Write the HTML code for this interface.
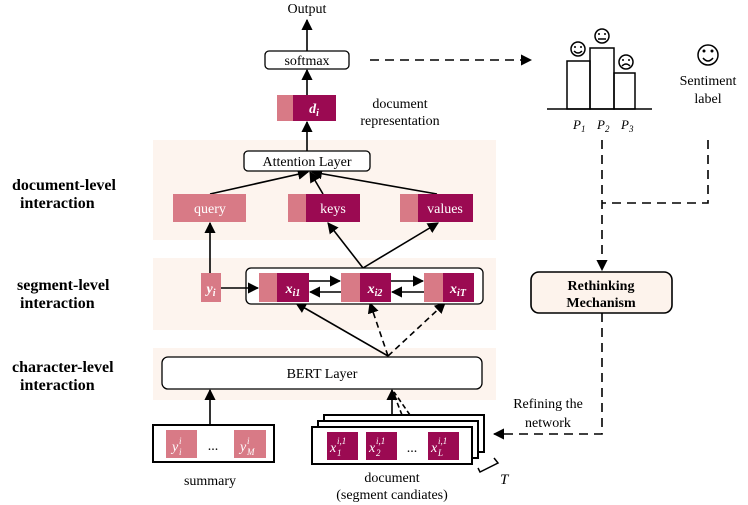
<!DOCTYPE html>
<html><head><meta charset="utf-8"><style>body{margin:0;background:#fff}svg{display:block}</style></head><body>
<svg width="748" height="505" viewBox="0 0 748 505" xmlns="http://www.w3.org/2000/svg" font-family="Liberation Serif, serif">
<defs>
<marker id="a" viewBox="0 0 10 10" refX="9" refY="5" markerWidth="7" markerHeight="7" orient="auto"><path d="M0,0L10,5L0,10z" fill="#000"/></marker>
</defs>
<rect x="153" y="140" width="343" height="100" fill="#fdf4ee"/>
<rect x="153" y="258" width="343" height="72" fill="#fdf4ee"/>
<rect x="153" y="348" width="343" height="52" fill="#fdf4ee"/>
<g font-weight="bold" font-size="16">
<text x="12" y="190">document-level</text><text x="20" y="208">interaction</text>
<text x="17" y="290">segment-level</text><text x="20" y="308">interaction</text>
<text x="12" y="372">character-level</text><text x="20" y="390">interaction</text>
</g>
<g stroke="#000" stroke-width="1.6" fill="none">
<line x1="307" y1="51" x2="307" y2="20" marker-end="url(#a)"/>
<line x1="307" y1="95" x2="307" y2="70" marker-end="url(#a)"/>
<line x1="307" y1="151" x2="307" y2="122" marker-end="url(#a)"/>
<line x1="210" y1="194" x2="308" y2="172" marker-end="url(#a)"/>
<line x1="323" y1="194" x2="310" y2="172" marker-end="url(#a)"/>
<line x1="437" y1="194" x2="312" y2="172" marker-end="url(#a)"/>
<line x1="210" y1="273" x2="210" y2="223" marker-end="url(#a)"/>
<line x1="363" y1="268" x2="328" y2="223" marker-end="url(#a)"/>
<line x1="363" y1="268" x2="438" y2="223" marker-end="url(#a)"/>
<line x1="388" y1="356" x2="296" y2="303" marker-end="url(#a)"/>
<line x1="388" y1="356" x2="370" y2="303" marker-end="url(#a)" stroke-dasharray="6,4"/>
<line x1="388" y1="356" x2="445" y2="303" marker-end="url(#a)" stroke-dasharray="6,4"/>
<line x1="210" y1="425" x2="210" y2="390" marker-end="url(#a)"/>
<line x1="392" y1="427" x2="392" y2="390" marker-end="url(#a)"/>
<line x1="402" y1="415" x2="393" y2="392" stroke-dasharray="5,3"/>
<line x1="410" y1="415" x2="394" y2="392" stroke-dasharray="5,3"/>
<line x1="370" y1="60" x2="531" y2="60" marker-end="url(#a)" stroke-dasharray="9,6"/>
<line x1="602" y1="140" x2="602" y2="270" marker-end="url(#a)" stroke-dasharray="9,6"/>
<polyline points="708,140 708,203 602,203" stroke-dasharray="9,6"/>
<polyline points="602,313 602,434 494,434" marker-end="url(#a)" stroke-dasharray="9,6"/>
</g>
<g stroke="#000" stroke-width="1.3" fill="#fff">
<rect x="265" y="51" width="84" height="18" rx="4"/>
<rect x="244" y="151" width="126" height="20" rx="4"/>
<rect x="246" y="268" width="237" height="36" rx="5"/>
<rect x="162" y="357" width="320" height="32" rx="6"/>
<rect x="531" y="272" width="141" height="41" rx="8" fill="#fdf3ec" stroke-width="1.6"/>
</g>
<g stroke="#000" stroke-width="2" fill="#fff">
<rect x="153" y="425" width="121" height="37"/>
<rect x="324" y="415" width="160" height="37"/>
<rect x="318" y="421" width="160" height="37"/>
<rect x="312" y="427" width="160" height="37"/>
</g>
<g fill="#d87a86">
<rect x="277" y="95" width="16" height="26"/>
<rect x="173" y="194" width="73" height="28"/>
<rect x="288" y="194" width="18" height="28"/><rect x="400" y="194" width="18" height="28"/>
<rect x="201" y="273" width="20" height="29"/>
<rect x="259" y="273" width="18" height="29"/><rect x="341" y="273" width="19" height="29"/><rect x="424" y="273" width="19" height="29"/>
<rect x="166" y="430" width="31" height="28"/><rect x="234" y="430" width="32" height="28"/>
</g>
<g fill="#9b0a52">
<rect x="293" y="95" width="43" height="26"/>
<rect x="306" y="194" width="54" height="28"/><rect x="418" y="194" width="55" height="28"/>
<rect x="277" y="273" width="32" height="29"/><rect x="360" y="273" width="31" height="29"/><rect x="443" y="273" width="31" height="29"/>
<rect x="327" y="432" width="31" height="28"/><rect x="366" y="432" width="31" height="28"/><rect x="428" y="432" width="31" height="28"/>
</g>
<g stroke="#000" stroke-width="1.6" fill="none">
<line x1="221" y1="288" x2="258" y2="288" marker-end="url(#a)"/>
<line x1="309" y1="281" x2="340" y2="281" marker-end="url(#a)"/>
<line x1="341" y1="292" x2="310" y2="292" marker-end="url(#a)"/>
<line x1="391" y1="281" x2="423" y2="281" marker-end="url(#a)"/>
<line x1="424" y1="292" x2="392" y2="292" marker-end="url(#a)"/>
</g>
<g font-size="14" text-anchor="middle">
<text x="307" y="13">Output</text>
<text x="307" y="65">softmax</text>
<text x="400" y="108">document</text><text x="400" y="125">representation</text>
<text x="307" y="166">Attention Layer</text>
<text x="322" y="378">BERT Layer</text>
<text x="210" y="485">summary</text>
<text x="392" y="482">document</text><text x="392" y="499">(segment candiates)</text>
<text x="213" y="450">...</text><text x="412" y="452">...</text>
<text x="548" y="408">Refining the</text><text x="548" y="427">network</text>
<text x="708" y="85">Sentiment</text><text x="708" y="103">label</text>
<text x="601" y="290" font-weight="bold">Rethinking</text><text x="601" y="307" font-weight="bold">Mechanism</text>
</g>
<g font-size="14" text-anchor="middle" fill="#fff">
<text x="210" y="213">query</text><text x="333" y="213">keys</text><text x="445" y="213">values</text>
<text x="314" y="113" font-weight="bold" font-style="italic">d<tspan font-size="10" dy="3">i</tspan></text>
<text x="211" y="293" font-weight="bold" font-style="italic">y<tspan font-size="10" dy="3">i</tspan></text>
<text x="293" y="293" font-weight="bold" font-style="italic">x<tspan font-size="10" dy="3">i1</tspan></text>
<text x="375" y="293" font-weight="bold" font-style="italic">x<tspan font-size="10" dy="3">i2</tspan></text>
<text x="458" y="293" font-weight="bold" font-style="italic">x<tspan font-size="10" dy="3">iT</tspan></text>
</g>
<g font-size="14" font-style="italic" fill="#fff">
<text x="172" y="451">y</text><text x="179" y="444" font-size="9">i</text><text x="179" y="455" font-size="9">i</text>
<text x="240" y="451">y</text><text x="247" y="444" font-size="9">i</text><text x="247" y="455" font-size="9">M</text>
<text x="330" y="452">x</text><text x="337" y="444" font-size="9">i,1</text><text x="337" y="456" font-size="9">1</text>
<text x="369" y="452">x</text><text x="376" y="444" font-size="9">i,1</text><text x="376" y="456" font-size="9">2</text>
<text x="431" y="452">x</text><text x="438" y="444" font-size="9">i,1</text><text x="438" y="456" font-size="9">L</text>
</g>
<g stroke="#000" stroke-width="1.5" fill="none">
<line x1="547" y1="109" x2="652" y2="109"/>
<rect x="567" y="61" width="23" height="48"/><rect x="590" y="48" width="24" height="61"/><rect x="614" y="73" width="21" height="36"/>
<circle cx="578" cy="49" r="7"/><circle cx="602" cy="36" r="7"/><circle cx="626" cy="62" r="7"/>
<path d="M574,51 q4,4 8,0"/><line x1="598" y1="39" x2="606" y2="39"/><path d="M622,66 q4,-4 8,0"/>
<circle cx="708" cy="55" r="10"/><path d="M703,58 q5,6 10,0"/>
<polyline points="478,468 480,472 498,463 494,458"/>
</g>
<g fill="#000">
<circle cx="575" cy="47" r="1"/><circle cx="581" cy="47" r="1"/>
<circle cx="599" cy="34" r="1"/><circle cx="605" cy="34" r="1"/>
<circle cx="623" cy="60" r="1"/><circle cx="629" cy="60" r="1"/>
<circle cx="704" cy="51" r="1.5"/><circle cx="712" cy="51" r="1.5"/>
</g>
<g font-size="13" font-style="italic">
<text x="573" y="129">P<tspan font-size="9" dy="3">1</tspan></text>
<text x="597" y="129">P<tspan font-size="9" dy="3">2</tspan></text>
<text x="621" y="129">P<tspan font-size="9" dy="3">3</tspan></text>
<text x="500" y="484" font-size="15">T</text>
</g>
</svg>
</body></html>
